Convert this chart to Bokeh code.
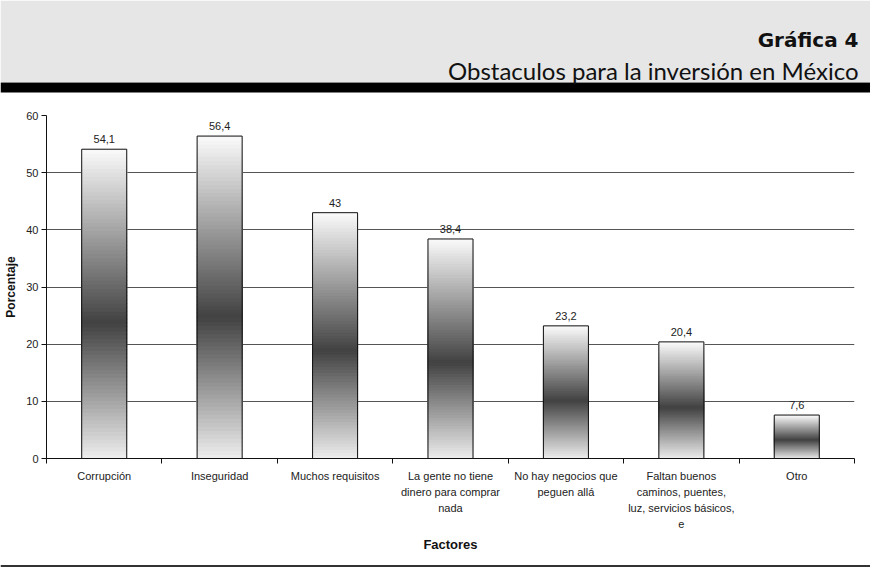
from bokeh.plotting import figure
from bokeh.models import Range1d, FixedTicker, ColumnDataSource
from bokeh.core.properties import value
from bokeh.embed import file_html
from bokeh.resources import INLINE

# ---------------- data ----------------
categories = [
    "Corrupción",
    "Inseguridad",
    "Muchos requisitos",
    "La gente no tiene\ndinero para comprar\nnada",
    "No hay negocios que\npeguen allá",
    "Faltan buenos\ncaminos, puentes,\nluz, servicios básicos,\ne",
    "Otro",
]
values = [54.1, 56.4, 43, 38.4, 23.2, 20.4, 7.6]
value_labels = ["54,1", "56,4", "43", "38,4", "23,2", "20,4", "7,6"]
y_ticks = [0, 10, 20, 30, 40, 50, 60]
title_text = "Gráfica 4"
subtitle_text = "Obstaculos para la inversión en México"
x_title = "Factores"
y_title = "Porcentaje"

W = 870
FONT = "Liberation Sans"

# ---------------- header ----------------
HH = 93
h = figure(width=W, height=HH, x_range=Range1d(0, W), y_range=Range1d(0, HH),
           toolbar_location=None, output_backend="svg", min_border=0)
h.axis.visible = False
h.grid.visible = False
h.outline_line_color = None
h.quad(left=[0], right=[W], bottom=[11.5], top=[HH], fill_color="#e6e6e6", line_color=None)
h.quad(left=[0], right=[W], bottom=[10.5], top=[11.5], fill_color="#8a8a8a", line_color=None)
h.quad(left=[0], right=[W], bottom=[1], top=[10.5], fill_color="#000000", line_color=None)
h.text(x=[858], y=[54], text=[title_text], text_align="right", text_baseline="alphabetic",
       text_font=value("DejaVu Sans"), text_font_style="bold", text_font_size="20px",
       text_color="#111111")
h.text(x=[858], y=[23], text=[subtitle_text], text_align="right", text_baseline="alphabetic",
       text_font=value("Lato"), text_font_size="24px", text_color="#111111")

# ---------------- main chart ----------------
n = len(categories)
centers = [i + 0.5 for i in range(n)]
bounds = list(range(n + 1))
bar_w = 0.39

p = figure(width=W, height=462, x_range=Range1d(0, n), y_range=Range1d(0, 60),
           toolbar_location=None, output_backend="svg",
           min_border_left=46, min_border_right=16, min_border_top=22, min_border_bottom=96)
p.outline_line_color = None
p.xgrid.visible = False
p.ygrid.grid_line_color = "#555555"
p.ygrid.grid_line_width = 1

# gradient slices, computed from the values
N = 80
dark = 0.44
xs, bots, tops, cols = [], [], [], []
for c, v in zip(centers, values):
    step = v / N
    for k in range(N):
        t = (k + 0.5) / N
        if t < dark:
            g = 238 + (66 - 238) * (t / dark)
        else:
            g = 66 + (250 - 66) * ((t - dark) / (1 - dark))
        g = int(round(g))
        xs.append(c)
        bots.append(k * step)
        tops.append(min(v, (k + 2.2) * step))
        cols.append("#%02x%02x%02x" % (g, g, g))
p.vbar(x=xs, bottom=bots, top=tops, width=bar_w, fill_color=cols, line_color=cols, line_width=1)
src = ColumnDataSource(dict(x=centers, top=values, lab=value_labels))
p.vbar(x="x", top="top", bottom=0, width=bar_w, source=src, fill_color=None,
       line_color="#111111", line_width=1)
p.text(x="x", y="top", text="lab", source=src, y_offset=-6, text_align="center",
       text_baseline="bottom", text_font=value(FONT), text_font_size="11px", text_color="#222222")

# x axis
xa = p.xaxis[0]
xa.ticker = FixedTicker(ticks=centers, minor_ticks=bounds)
xa.major_label_overrides = {c: lab for c, lab in zip(centers, categories)}
xa.major_tick_out = 0
xa.major_tick_in = 0
xa.minor_tick_out = 5
xa.minor_tick_in = 0
xa.minor_tick_line_color = "#111111"
xa.axis_line_color = "#111111"
xa.major_label_standoff = 6
xa.major_label_text_font = FONT
xa.major_label_text_font_size = "11px"
xa.major_label_text_line_height = 1.35
xa.major_label_text_color = "#222222"
xa.major_label_text_align = "center"
xa.axis_label = x_title
xa.axis_label_text_font = FONT
xa.axis_label_text_font_style = "bold"
xa.axis_label_text_font_size = "13px"
xa.axis_label_text_color = "#111111"
xa.axis_label_standoff = 4

# y axis
ya = p.yaxis[0]
ya.ticker = FixedTicker(ticks=y_ticks, minor_ticks=[])
ya.major_tick_out = 5
ya.major_tick_in = 0
ya.major_tick_line_color = "#111111"
ya.axis_line_color = "#111111"
ya.major_label_standoff = 3
ya.major_label_text_font = FONT
ya.major_label_text_font_size = "11px"
ya.major_label_text_color = "#222222"
ya.axis_label = y_title
ya.axis_label_text_font = FONT
ya.axis_label_text_font_style = "bold"
ya.axis_label_text_font_size = "12px"
ya.axis_label_text_color = "#111111"
ya.axis_label_standoff = 5

# ---------------- footer ----------------
f = figure(width=W, height=14, x_range=Range1d(0, W), y_range=Range1d(0, 14),
           toolbar_location=None, output_backend="svg", min_border=0)
f.axis.visible = False
f.grid.visible = False
f.outline_line_color = None
f.quad(left=[0], right=[W], bottom=[2.5], top=[4.5], fill_color="#333333", line_color=None)

open("out.html", "w").write(file_html([h, p, f], INLINE))
